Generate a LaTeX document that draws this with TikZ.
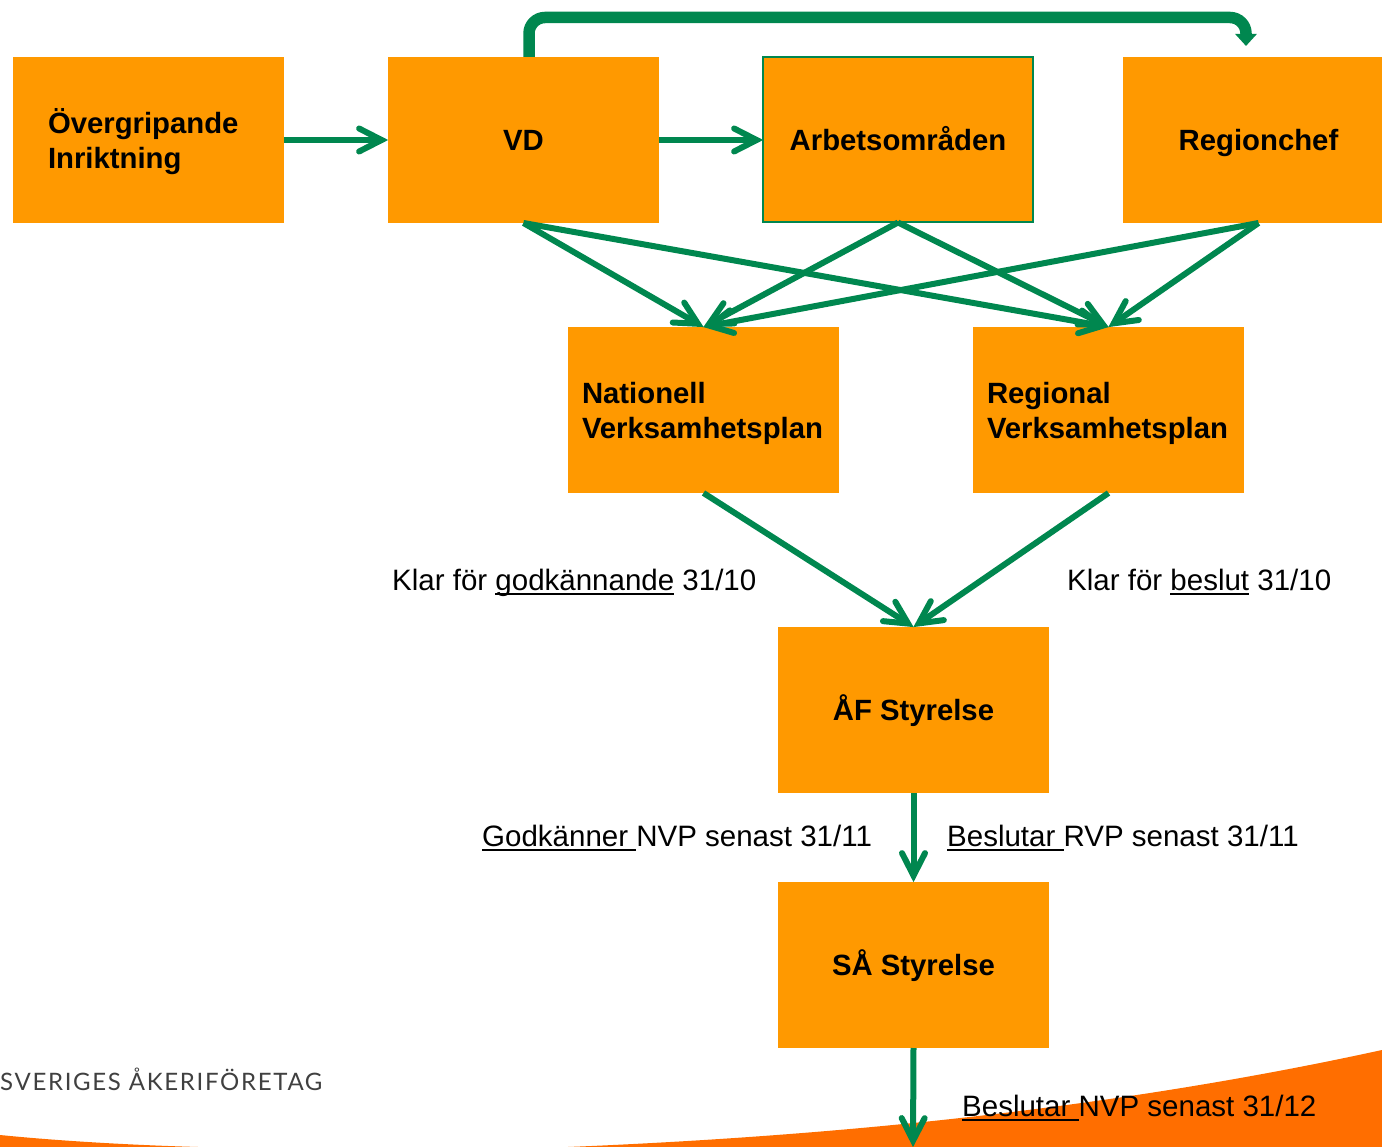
\documentclass[tikz,border=0pt]{standalone}
\usepackage{fontspec}
\setmainfont{Liberation Sans}
\newfontfamily\logofont[LetterSpace=7]{Lato}
\usetikzlibrary{arrows.meta}
\definecolor{boxorange}{HTML}{FF9900}
\definecolor{swoosh}{HTML}{FF6E00}
\definecolor{flowgreen}{HTML}{00874F}
\pgfdeclarearrow{
  name=OpenV,
  setup code={
    \pgfarrowssettipend{6.4pt}
    \pgfarrowssetlineend{-4pt}
    \pgfarrowssetvisualbackend{-24pt}
    \pgfarrowshullpoint{6.4pt}{0pt}
    \pgfarrowshullpoint{-24pt}{14pt}
    \pgfarrowshullpoint{-24pt}{-14pt}
  },
  drawing code={
    \pgfsetdash{}{0pt}
    \pgfsetroundcap
    \pgfsetmiterjoin
    \pgfpathmoveto{\pgfqpoint{-22.5pt}{11.5pt}}
    \pgfpathlineto{\pgfqpoint{0pt}{0pt}}
    \pgfpathlineto{\pgfqpoint{-22.5pt}{-11.5pt}}
    \pgfusepathqstroke
  }
}
\newcommand{\boxstrut}{\rule[-6pt]{0pt}{34pt}}
\newcommand{\ultext}[1]{\sbox0{#1}\rlap{\rule[-4.6pt]{\wd0}{1.8pt}}\box0\relax}
\tikzset{
  box/.style={fill=boxorange,minimum width=271pt,minimum height=166pt,inner sep=0pt,outer sep=0pt,
    font=\fontsize{29.3}{35}\selectfont\bfseries,text=black},
  leftbox/.style={box,align=left,text width=271pt-2*#1,inner xsep=#1},
  flow/.style={draw=flowgreen,line width=6pt,-{OpenV}},
  lab/.style={anchor=base west,inner sep=0pt,font=\fontsize{29.5}{35}\selectfont,text=black},
}
\begin{document}
\begin{tikzpicture}[x=1pt,y=-1pt]
\useasboundingbox (0,0) rectangle (1382,1147);
\clip (0,0) rectangle (1382,1147);
\fill[swoosh] (568,1147) .. controls (860,1135) and (1130,1105) .. (1382,1050) -- (1382,1147) -- cycle;
\fill[swoosh] (0,1135) .. controls (60,1141) and (130,1145) .. (198,1147) -- (0,1147) -- cycle;
\node[box,leftbox=35pt] (ovr) at (148.5,140) {\boxstrut Övergripande\\\boxstrut Inriktning};
\node[box] (vd) at (523.5,140) {\boxstrut VD};
\node[box,draw=flowgreen,line width=2pt,minimum width=270pt,minimum height=165pt] (arb) at (898,140) {\boxstrut Arbetsområden};
\node[box] (reg) at (1258.5,140) {\boxstrut Regionchef};
\node[box,leftbox=14pt] (nat) at (703.5,410) {\boxstrut Nationell\\\boxstrut Verksamhetsplan};
\node[box,leftbox=14pt] (rvp) at (1108.5,410) {\boxstrut Regional\\\boxstrut Verksamhetsplan};
\node[box] (af) at (913.5,710) {\boxstrut ÅF Styrelse};
\node[box] (sa) at (913.5,965) {\boxstrut SÅ Styrelse};
\coordinate (curveend) at (1246,46);
\coordinate (bottomend) at (913,1147);
\draw[flow] (ovr.east) -- (vd.west);
\draw[flow] (vd.east) -- (arb.west);
\draw[flow] (vd.south) -- (nat.north);
\draw[flow] (vd.south) -- (rvp.north);
\draw[flow] (arb.south) -- (nat.north);
\draw[flow] (arb.south) -- (rvp.north);
\draw[flow] (reg.south) -- (nat.north);
\draw[flow] (reg.south) -- (rvp.north);
\draw[flow] (nat.south) -- (af.north);
\draw[flow] (rvp.south) -- (af.north);
\draw[flow] (af.south) -- (sa.north);
\draw[flow] (sa.south) -- (bottomend);
\draw[flowgreen,line width=11.5pt,-{Triangle[length=12pt,width=21pt]}]
  ([xshift=5.5pt]vd.north) -- ++(0,-23.5) arc[start angle=180,end angle=90,radius=16pt]
  -- (1230,17.5) arc[start angle=90,end angle=0,radius=16pt] -- (curveend);
\node[lab] (l1) at (392,590) {Klar för \ultext{godkännande} 31/10};
\node[lab] (l2) at (1067,590) {Klar för \ultext{beslut} 31/10};
\node[lab] (l3) at (482,846) {\ultext{Godkänner }NVP senast 31/11};
\node[lab] (l4) at (947,846) {\ultext{Beslutar }RVP senast 31/11};
\node[lab] (l5) at (962,1116) {\ultext{Beslutar }NVP senast 31/12};
\node[anchor=base west,inner sep=0pt,font=\fontsize{24}{28}\logofont,text=black!75] (logo) at (0,1090) {SVERIGES ÅKERIFÖRETAG};
\end{tikzpicture}
\end{document}
